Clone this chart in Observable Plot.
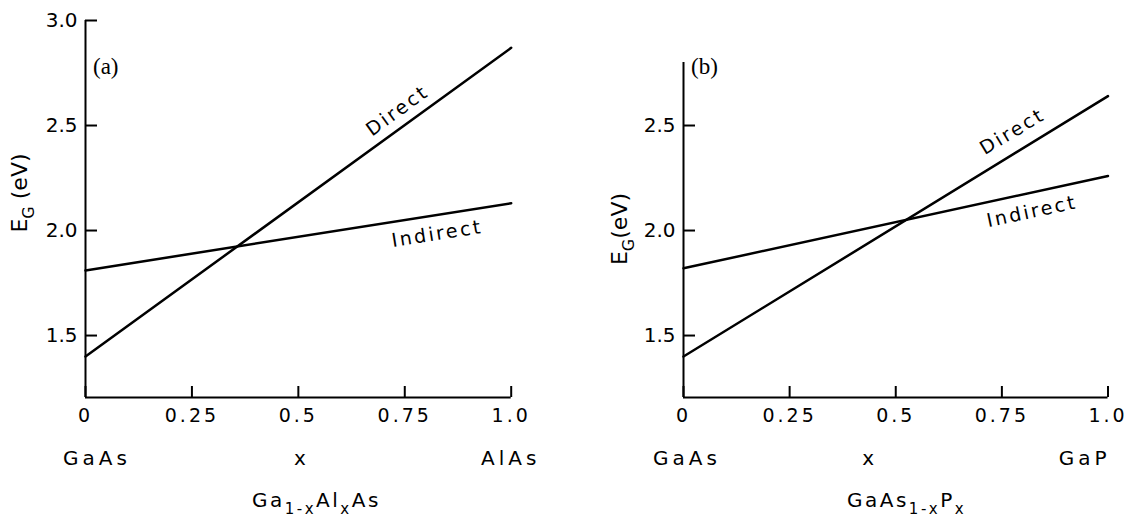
<!DOCTYPE html>
<html><head><meta charset="utf-8">
<script src="https://cdn.jsdelivr.net/npm/d3@7"></script>
<script src="https://cdn.jsdelivr.net/npm/@observablehq/plot@0.6"></script>
<style>
html,body{margin:0;padding:0;background:#fff;}
#wrap{position:relative;width:1143px;height:521px;overflow:hidden;background:#fff;}
#wrap svg{position:absolute;top:0;}
</style></head><body><div id="wrap"></div>
<script>
// ---- data ----
const xValues = [0, 1];
const directA = [1.40, 2.87];
const indirectA = [1.81, 2.13];
const directB = [1.40, 2.64];
const indirectB = [1.82, 2.26];
const xTicks = [0, 0.25, 0.5, 0.75, 1.0];
const xTickLabels = ["0", "0.25", "0.5", "0.75", "1.0"];
const yTicksA = [1.5, 2.0, 2.5, 3.0];
const yTickLabelsA = ["1.5", "2.0", "2.5", "3.0"];
const yTicksB = [1.5, 2.0, 2.5];
const yTickLabelsB = ["1.5", "2.0", "2.5"];
const yMin = 1.205;
const yTopA = 3.0;
const yTopB = 2.8;
const labelsA = [
  {text: "Direct", x: 0.733, y: 2.571, angle: -36},
  {text: "Indirect", x: 0.826, y: 1.984, angle: -9}
];
const labelsB = [
  {text: "Direct", x: 0.775, y: 2.471, angle: -31},
  {text: "Indirect", x: 0.821, y: 2.09, angle: -12}
];

const FONT = "DejaVu Sans, sans-serif";
const H = 521, MT = 20, MB = 124;

function rows(direct, indirect) {
  const r = [];
  xValues.forEach((x, i) => r.push({x, y: direct[i], series: "Direct"}));
  xValues.forEach((x, i) => r.push({x, y: indirect[i], series: "Indirect"}));
  return r;
}

function addText(svg, x, y, parts, {anchor = "start", size = 20, subSize = 15, spacing = 0, rotate = 0, family = FONT} = {}) {
  const t = svg.append("text")
    .attr("transform", `translate(${x},${y}) rotate(${rotate})`)
    .attr("text-anchor", anchor)
    .attr("font-family", family)
    .attr("font-size", size)
    .attr("fill", "black")
    .style("letter-spacing", spacing + "px");
  let shifted = false;
  parts.forEach(([s, sub]) => {
    const ts = t.append("tspan").text(s);
    if (sub && !shifted) { ts.attr("dy", 7).attr("font-size", subSize); shifted = true; }
    else if (sub) { ts.attr("font-size", subSize); }
    else if (!sub && shifted) { ts.attr("dy", -7); shifted = false; }
  });
  return t;
}

function panel(cfg) {
  const frameW = cfg.width - cfg.marginLeft - cfg.marginRight;
  const frameH = H - MT - MB;
  const plot = Plot.plot({
    width: cfg.width, height: H,
    marginLeft: cfg.marginLeft, marginRight: cfg.marginRight,
    marginTop: MT, marginBottom: MB,
    x: {domain: [0, 1]},
    y: {domain: [yMin, 3.0]},
    style: {fontFamily: FONT, background: "transparent", color: "black"},
    marks: [
      Plot.ruleX([0], {y1: yMin, y2: cfg.yTop, strokeWidth: 2}),
      Plot.ruleY([yMin], {x1: 0, x2: 1, strokeWidth: 2}),
      // inward ticks
      Plot.tickY(cfg.yTicks, {y: d => d, insetRight: frameW - 12, strokeWidth: 2}),
      Plot.tickX(xTicks, {x: d => d, insetTop: frameH - 11, strokeWidth: 2}),
      Plot.axisY(cfg.yTicks, {anchor: "left", tickSize: 0, tickPadding: 8,
        tickFormat: d => cfg.yLabels[cfg.yTicks.indexOf(d)], fontSize: 20, label: null}),
      Plot.axisX(xTicks, {anchor: "bottom", tickSize: 0, tickPadding: 11,
        tickFormat: d => xTickLabels[xTicks.indexOf(d)], fontSize: 19, label: null}),
      Plot.line(rows(cfg.direct, cfg.indirect), {x: "x", y: "y", z: "series", stroke: "black", strokeWidth: 2.5}),
      Plot.text(cfg.labels, {x: "x", y: "y", text: "text", rotate: "angle", fontSize: 19})
    ]
  });
  plot.style.left = cfg.left + "px";
  document.getElementById("wrap").appendChild(plot);
  const svg = d3.select(plot);
  svg.selectAll('g[aria-label="x-axis tick label"] text').style("letter-spacing", "3px");
  svg.selectAll('g[aria-label="text"] text').style("letter-spacing", "2.5px");
  const xs = plot.scale("x");
  const x0 = xs.apply(0), x1 = xs.apply(1), xm = xs.apply(0.5);
  // bottom labels
  addText(svg, x0 + cfg.leftLabelDx, 465, [[cfg.leftName]], {spacing: 4});
  addText(svg, xm + cfg.xDx, 465, [["x"]], {anchor: "middle"});
  addText(svg, x1 + cfg.rightLabelDx, 465, [[cfg.rightName]], {anchor: cfg.rightAnchor, spacing: 4});
  // compound name
  addText(svg, x0 + cfg.titleDx, 507, cfg.title, {spacing: 2.5});
  // y title
  addText(svg, x0 + cfg.yTitleDx, cfg.yTitleCy, cfg.yTitle, {anchor: "middle", size: 22, subSize: 16, rotate: -90});
  // panel tag
  addText(svg, x0 + 8, 74, [[cfg.tag]], {size: 23, family: "Liberation Serif, serif"});
}

panel({
  left: 0, width: 572, marginLeft: 85, marginRight: 61.3,
  direct: directA, indirect: indirectA, yTicks: yTicksA, yLabels: yTickLabelsA, yTop: yTopA,
  labels: labelsA, leftName: "GaAs", rightName: "AlAs", rightAnchor: "middle",
  leftLabelDx: -22, xDx: 2, rightLabelDx: 0,
  title: [["Ga"], ["1-x", true], ["Al"], ["x", true], ["As"]], titleDx: 167,
  yTitle: [["E"], ["G", true], [" (eV)"]], yTitleDx: -58, yTitleCy: 193, tag: "(a)"
});
panel({
  left: 571, width: 572, marginLeft: 112, marginRight: 35.5,
  direct: directB, indirect: indirectB, yTicks: yTicksB, yLabels: yTickLabelsB, yTop: yTopB,
  labels: labelsB, leftName: "GaAs", rightName: "GaP", rightAnchor: "end",
  leftLabelDx: -30, xDx: -27, rightLabelDx: 3,
  title: [["GaAs"], ["1-x", true], ["P"], ["x", true]], titleDx: 164,
  yTitle: [["E"], ["G", true], ["(eV)"]], yTitleDx: -56, yTitleCy: 229, tag: "(b)"
});
</script></body></html>
